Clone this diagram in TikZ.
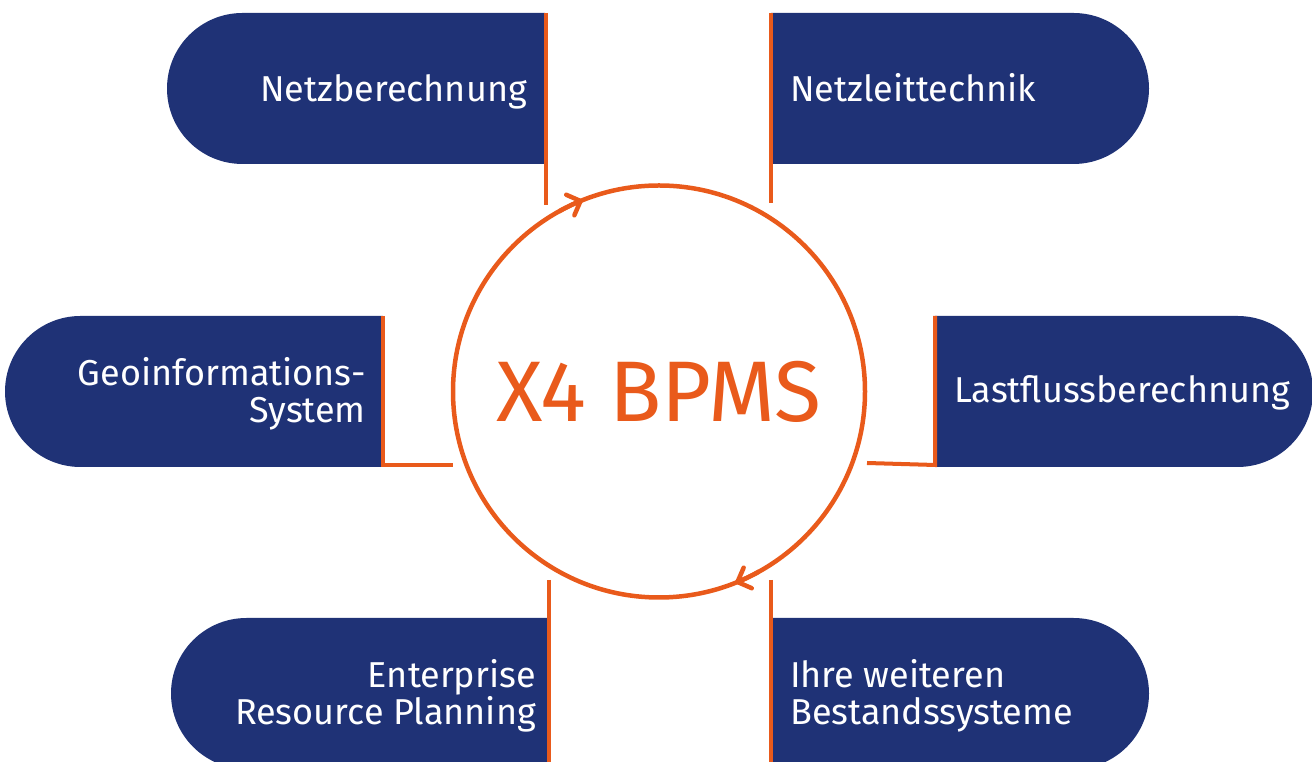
\documentclass[tikz,border=0pt]{standalone}
\usepackage{fontspec}
\setmainfont{Fira Sans}
\usetikzlibrary{arrows.meta,shapes.misc}
\definecolor{navy}{HTML}{1F3276}
\definecolor{orng}{HTML}{E95A1B}
\begin{document}
\begin{tikzpicture}[x=1pt,y=1pt,
  sbox/.style={rounded rectangle, fill=navy, draw=none, minimum height=151pt, inner sep=0pt, outer sep=0pt},
  lft/.style={sbox, rounded rectangle right arc=none},
  rgt/.style={sbox, rounded rectangle left arc=none},
  conn/.style={draw=orng, line width=4pt},
  lbl/.style={text=white, font=\fontsize{36}{37}\selectfont, inner sep=0pt},
  tipst/.style={draw=orng, line width=4.5pt, -{Straight Barb[length=11pt,width=22pt,line width=4.5pt,line cap=round]}},
]
\useasboundingbox (0,0) rectangle (1312,762);
% boxes
\node[lft, minimum width=378pt] (b1) at (356,673.5) {};
\node[rgt, minimum width=378pt] (b2) at (960,673.5) {};
\node[lft, minimum width=378pt] (b3) at (194,370.5) {};
\node[rgt, minimum width=378pt] (b4) at (1124,370.5) {};
\node[lft, minimum width=377pt] (b5) at (359.5,68.5) {};
\node[rgt, minimum width=378pt] (b6) at (960,68.5) {};
% labels
\node[lbl, anchor=base east] (t1) at (527,660) {Netzberechnung};
\node[lbl, anchor=base west] (t2) at (790,660) {Netzleittechnik};
\node[lbl, anchor=base east, align=right] (t3) at (366,339) {Geoinformations-\\System};
\node[lbl, anchor=base west] (t4) at (954,359) {Lastflussberechnung};
\node[lbl, anchor=base east, align=right] (t5) at (536,37) {Enterprise\\Resource Planning};
\node[lbl, anchor=base west, align=left] (t6) at (790,37) {Ihre weiteren\\Bestandssysteme};
% hub
\node[circle, draw=orng, line width=4.5pt, minimum size=412pt, inner sep=0pt, text=orng,
      font=\fontsize{86}{86}\selectfont] (hub) at (659,370.5) {X4 BPMS};
% connectors
\coordinate (c1) at (546,557);
\coordinate (c2) at (771,559);
\coordinate (c3) at (453,297);
\coordinate (c4) at (867,299);
\coordinate (c5) at (549,182);
\coordinate (c6) at (771,182);
\draw[conn] ([xshift=1pt]b1.north east) -- (c1);
\draw[conn] (b2.north west) -- (c2);
\draw[conn] (b3.north east) -- ([yshift=-149pt]b3.north east) -- (c3);
\draw[conn] (b4.north west) -- ([yshift=-149pt]b4.north west) -- (c4);
\draw[conn] (c5) -- ([xshift=1pt]b5.south east);
\draw[conn] (c6) -- (b6.south west);
% arrow tips
\draw[tipst] (hub.center) ++(119:206) arc[start angle=119, end angle=111.5, radius=206];
\draw[tipst] (hub.center) ++(-61:206) arc[start angle=-61, end angle=-68.5, radius=206];
\end{tikzpicture}
\end{document}
